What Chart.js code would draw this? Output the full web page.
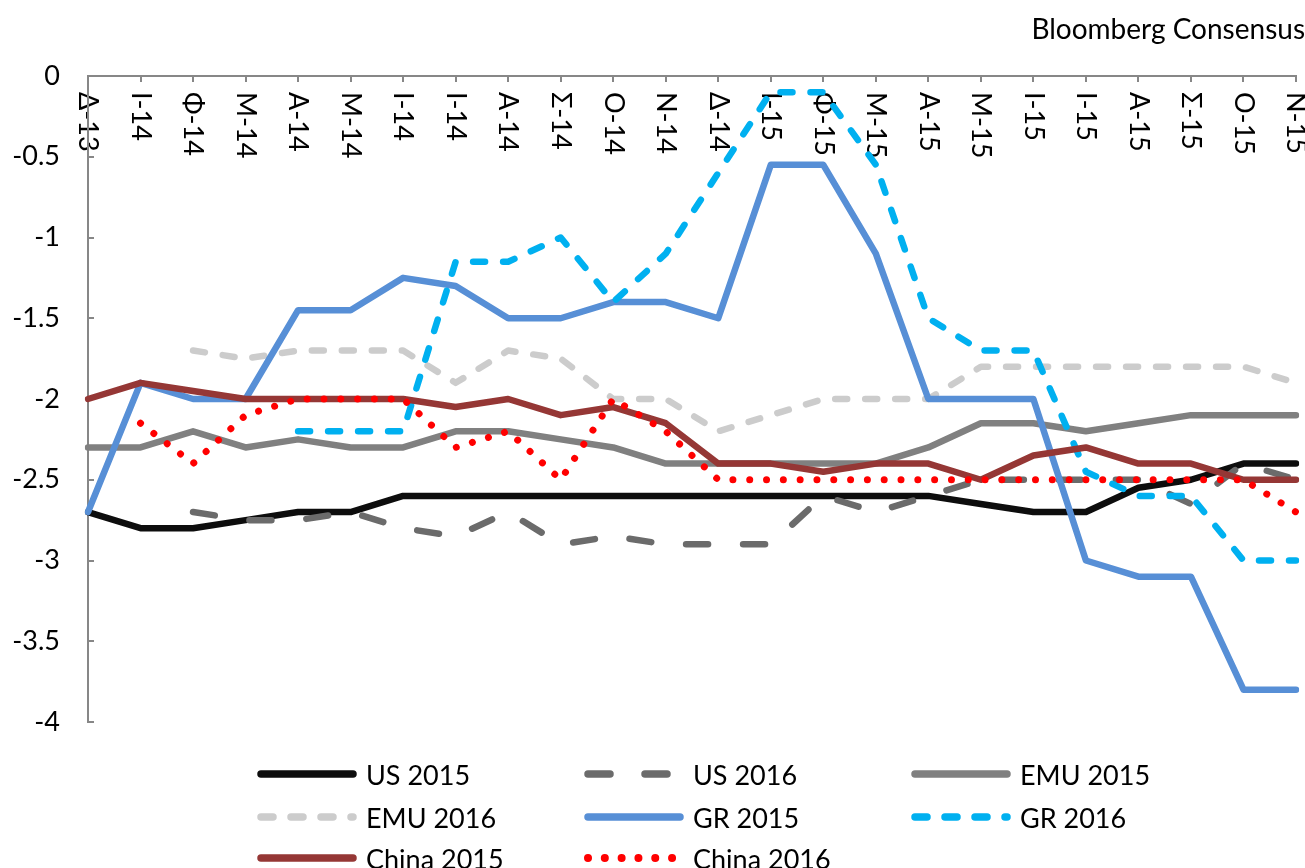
<!DOCTYPE html>
<html>
<head>
<meta charset="utf-8">
<script src="https://cdn.jsdelivr.net/npm/chart.js@4.4.0/dist/chart.umd.min.js"></script>
<style>
  html, body { margin: 0; padding: 0; background: #fff; overflow: hidden; }
  #wrap { position: relative; width: 1305px; height: 868px; }
  #legend { position: absolute; left: 0; top: 0; width: 1305px; height: 868px; pointer-events: none; }
  .item { position: absolute; height: 34px; display: flex; align-items: center; font-family: Lato, sans-serif; font-size: 27px; color: #000; white-space: nowrap; }
  .item canvas { margin-right: 8px; }
</style>
</head>
<body>
<div id="wrap">
  <canvas id="chart"></canvas>
  <div id="legend"></div>
</div>
<script>
// months (greek initials)
const labels = ['Δ-13','Ι-14','Φ-14','Μ-14','Α-14','Μ-14','Ι-14','Ι-14','Α-14','Σ-14','Ο-14','Ν-14',
                'Δ-14','Ι-15','Φ-15','Μ-15','Α-15','Μ-15','Ι-15','Ι-15','Α-15','Σ-15','Ο-15','Ν-15'];

const us2015 = [-2.7,-2.8,-2.8,-2.75,-2.7,-2.7,-2.6,-2.6,-2.6,-2.6,-2.6,-2.6,-2.6,-2.6,-2.6,-2.6,-2.6,-2.65,-2.7,-2.7,-2.55,-2.5,-2.4,-2.4];
const us2016 = [null,null,-2.7,-2.75,-2.75,-2.7,-2.8,-2.85,-2.7,-2.9,-2.85,-2.9,-2.9,-2.9,-2.6,-2.7,-2.6,-2.5,-2.5,-2.5,-2.5,-2.65,-2.4,-2.5];
const emu2015 = [-2.3,-2.3,-2.2,-2.3,-2.25,-2.3,-2.3,-2.2,-2.2,-2.25,-2.3,-2.4,-2.4,-2.4,-2.4,-2.4,-2.3,-2.15,-2.15,-2.2,-2.15,-2.1,-2.1,-2.1];
const emu2016 = [null,null,-1.7,-1.75,-1.7,-1.7,-1.7,-1.9,-1.7,-1.75,-2.0,-2.0,-2.2,-2.1,-2.0,-2.0,-2.0,-1.8,-1.8,-1.8,-1.8,-1.8,-1.8,-1.9];
const gr2015 = [-2.7,-1.9,-2.0,-2.0,-1.45,-1.45,-1.25,-1.3,-1.5,-1.5,-1.4,-1.4,-1.5,-0.55,-0.55,-1.1,-2.0,-2.0,-2.0,-3.0,-3.1,-3.1,-3.8,-3.8];
const gr2016 = [null,null,null,null,-2.2,-2.2,-2.2,-1.15,-1.15,-1.0,-1.4,-1.1,-0.6,-0.1,-0.1,-0.55,-1.5,-1.7,-1.7,-2.45,-2.6,-2.6,-3.0,-3.0];
const china2015 = [-2.0,-1.9,-1.95,-2.0,-2.0,-2.0,-2.0,-2.05,-2.0,-2.1,-2.05,-2.15,-2.4,-2.4,-2.45,-2.4,-2.4,-2.5,-2.35,-2.3,-2.4,-2.4,-2.5,-2.5];
const china2016 = [null,-2.15,-2.4,-2.1,-2.0,-2.0,-2.0,-2.3,-2.2,-2.5,-2.0,-2.2,-2.5,-2.5,-2.5,-2.5,-2.5,-2.5,-2.5,-2.5,-2.5,-2.5,-2.5,-2.7];

const axisColor = '#878787';
const LONG_DASH = [22, 35];
const DASH = [12, 18];
const DOT = [0.01, 16.8];

Chart.defaults.font.family = 'Lato, sans-serif';
Chart.defaults.color = '#000';

function series(label, data, color, dash, width) {
    return {
        label: label,
        data: data,
        borderColor: color,
        backgroundColor: color,
        borderWidth: width || 6.5,
        borderDash: dash || [],
        borderCapStyle: 'round',
        borderJoinStyle: 'round',
        pointRadius: 0,
        pointHoverRadius: 0,
        fill: false,
        tension: 0
    };
}

const datasets = [
    series('US 2015', us2015, '#0d0d0d'),
    series('US 2016', us2016, '#6b6b6b', LONG_DASH),
    series('EMU 2015', emu2015, '#808080'),
    series('EMU 2016', emu2016, '#cccccc', DASH),
    series('GR 2015', gr2015, '#578fd6'),
    series('GR 2016', gr2016, '#00b0f0', DASH),
    series('China 2015', china2015, '#953735'),
    series('China 2016', china2016, '#ff0000', DOT, 7)
];
// excel draws later series on top
datasets.forEach((d, i) => { d.order = datasets.length - i; });

const TITLE_SIZE = 28;
const TITLE_TOP = 13;

const chart = new Chart(document.getElementById('chart'), {
    type: 'line',
    data: { labels: labels, datasets: datasets },
    options: {
        responsive: true,
        maintainAspectRatio: false,
        animation: false,
        events: [],
        layout: { padding: { left: 0, right: 0, top: 0, bottom: 146 } },
        plugins: {
            legend: { display: false },
            tooltip: { enabled: false },
            title: {
                display: true,
                text: 'Bloomberg Consensus',
                align: 'end',
                color: '#000',
                font: { size: TITLE_SIZE, weight: 'normal' },
                padding: { top: TITLE_TOP, bottom: 0 }
            }
        },
        scales: {
            x: {
                type: 'category',
                position: 'top',
                offset: false,
                grid: { drawOnChartArea: false, drawTicks: true, tickLength: -6, color: axisColor, lineWidth: 2 },
                border: { display: true, color: axisColor, width: 2 },
                ticks: {
                    autoSkip: false,
                    minRotation: -90,
                    maxRotation: -90,
                    mirror: true,
                    padding: 16,
                    font: { size: 27 },
                    color: '#000'
                },
                afterFit(scale) {
                    scale.height = 76 - (TITLE_SIZE * 1.2 + TITLE_TOP);
                    scale.paddingLeft = 0;
                    scale.paddingRight = 9;
                }
            },
            y: {
                min: -4,
                max: 0,
                grid: { drawOnChartArea: false, drawTicks: true, tickLength: -6, color: axisColor, lineWidth: 2 },
                border: { display: true, color: axisColor, width: 2 },
                ticks: {
                    stepSize: 0.5,
                    padding: 34,
                    font: { size: 27 },
                    color: '#000',
                    callback: (v) => String(v)
                },
                afterFit(scale) {
                    scale.width = 88;
                }
            }
        }
    }
});

// legend in a 3 column grid, like the excel one
const legendDiv = document.getElementById('legend');
const colX = [256, 583, 910];
const rowY = [774, 817, 858];

chart.data.datasets.forEach((ds, i) => {
    const item = document.createElement('div');
    item.className = 'item';
    item.style.left = colX[i % 3] + 'px';
    item.style.top = (rowY[Math.floor(i / 3)] - 17) + 'px';

    const c = document.createElement('canvas');
    c.width = 102;
    c.height = 14;
    const g = c.getContext('2d');
    g.strokeStyle = ds.borderColor;
    g.lineWidth = ds.borderWidth + 1;
    g.lineCap = 'round';
    g.setLineDash(ds.borderDash);
    g.beginPath();
    g.moveTo(5, 7);
    g.lineTo(97, 7);
    g.stroke();

    const span = document.createElement('span');
    span.textContent = ds.label;

    item.appendChild(c);
    item.appendChild(span);
    legendDiv.appendChild(item);
});
</script>
</body>
</html>
